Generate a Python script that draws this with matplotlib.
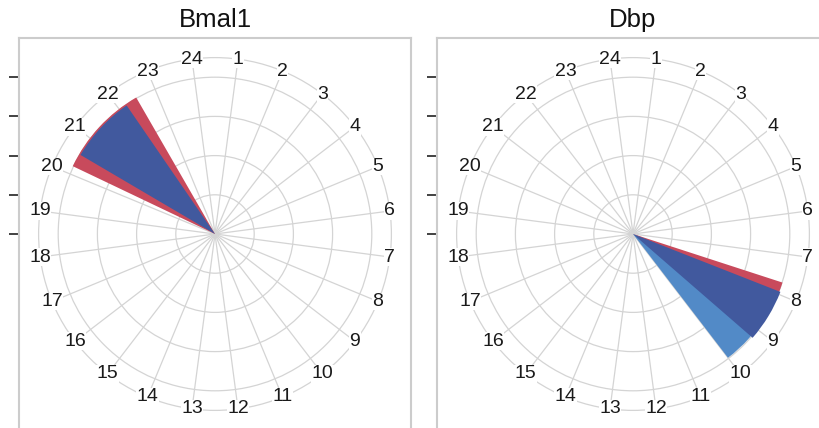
import numpy as np
import matplotlib
matplotlib.use("Agg")
import matplotlib.pyplot as plt
from matplotlib.patches import Wedge, Circle

plt.rcParams['font.family'] = ['Liberation Sans', 'DejaVu Sans']

# ---- data ----
titles = ["Bmal1", "Dbp"]
hour_labels = [str(h) for h in range(1, 25)]
ring_levels = [1, 2, 3, 4]
outer_radius = 4.5
tick_levels = [0, 1, 2, 3, 4]

# wedges: (start hour, end hour, radius, colour) in drawing order
bmal1_start = [20.2, 20.53]
bmal1_end = [22.5, 22.2]
bmal1_radius = [4.02, 3.98]
bmal1_colors = ["#C84A5C", "#41599E"]

dbp_start = [8.6, 7.7, 7.93]
dbp_end = [10.0, 8.3, 9.23]
dbp_radius = [3.98, 4.01, 4.04]
dbp_colors = ["#528AC7", "#C84A5C", "#41599E"]

wedge_sets = [
    (bmal1_start, bmal1_end, bmal1_radius, bmal1_colors),
    (dbp_start, dbp_end, dbp_radius, dbp_colors),
]

grid_color = "#d4d4d4"


def hour_to_cw_deg(h):
    # label k sits at (k-0.5)*15 degrees clockwise from the top
    return (h - 0.5) * 15.0


def cw_to_mpl(deg):
    return 90.0 - deg


W, H = 819, 428
fig = plt.figure(figsize=(W / 100, H / 100), dpi=100)
fig.patch.set_facecolor("white")

axes_px = [(19, 38), (437, 38)]
size_px = 392

for i, (title, wset) in enumerate(zip(titles, wedge_sets)):
    x0, ytop = axes_px[i]
    ax = fig.add_axes([x0 / W, 1 - (ytop + size_px) / H, size_px / W, size_px / H])
    ax.set_xlim(-5, 5)
    ax.set_ylim(-5, 5)
    ax.set_aspect("equal", adjustable="box")
    ax.set_facecolor("white")
    for s in ax.spines.values():
        s.set_color("#cccccc")
        s.set_linewidth(1.5)
    ax.set_xticks([])
    ax.set_yticks(tick_levels)
    ax.set_yticklabels([])
    ax.tick_params(axis="y", direction="out", length=7, width=1.3, color="#333333", pad=2)

    # rings
    for r in ring_levels + [outer_radius]:
        ax.add_patch(Circle((0, 0), r, fill=False, edgecolor=grid_color, lw=0.9, zorder=1))
    # spokes
    for k in range(1, 25):
        a = np.deg2rad(cw_to_mpl(hour_to_cw_deg(k)))
        ax.plot([0, outer_radius * np.cos(a)], [0, outer_radius * np.sin(a)],
                color=grid_color, lw=0.9, zorder=1)

    # wedges
    starts, ends, radii, cols = wset
    for s, e, r, c in zip(starts, ends, radii, cols):
        t1 = cw_to_mpl(hour_to_cw_deg(e))
        t2 = cw_to_mpl(hour_to_cw_deg(s))
        ax.add_patch(Wedge((0, 0), r, t1, t2, facecolor=c, edgecolor="none", zorder=2))

    # hour labels
    for k, lab in enumerate(hour_labels, start=1):
        a = np.deg2rad(cw_to_mpl(hour_to_cw_deg(k)))
        ax.text(outer_radius * np.cos(a), outer_radius * np.sin(a), lab,
                ha="center", va="center", fontsize=14, color="#1a1a1a", zorder=3,
                bbox=dict(boxstyle="square,pad=0.02", facecolor="white", edgecolor="none"))

    ax.text(0.5, 1 + 18 / size_px, title, transform=ax.transAxes,
            ha="center", va="center", fontsize=18.5, color="#111111")

fig.savefig("out.png", dpi=100, facecolor="white")
